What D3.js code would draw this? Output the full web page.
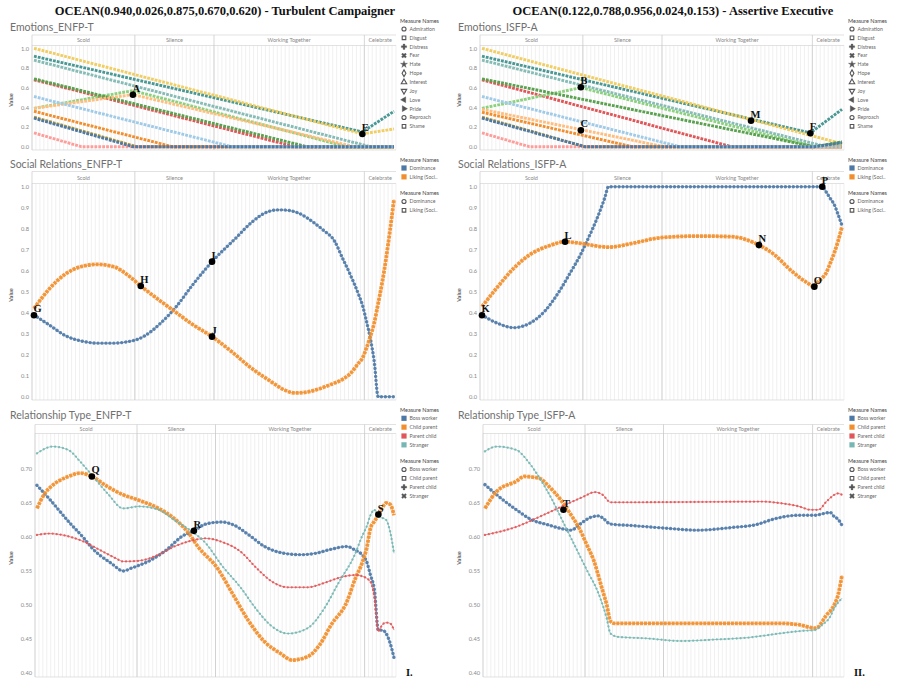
<!DOCTYPE html>
<html>
<head>
<meta charset="utf-8">
<script src="https://cdn.jsdelivr.net/npm/d3@7"></script>
<style>
body{margin:0;background:#fff;}
svg{display:block;font-family:Lato,"Open Sans",sans-serif;}
.big{font-family:"Liberation Serif","DejaVu Serif",serif;font-weight:bold;font-size:12.5px;fill:#111;}
.ptitle{font-size:10.5px;fill:#707070;}
.scene{font-size:5.5px;fill:#888;}
.lgt{font-size:5.5px;fill:#444;}
.lgi{font-size:5.2px;fill:#666;}
.anno{font-family:"Liberation Serif","DejaVu Serif",serif;font-weight:bold;font-size:10.5px;fill:#111;}
</style>
</head>
<body>
<div id="chart-area"></div>
<script>
// ---------- data ----------
var stepCount = 92;
var scenes = ['Scold','Silence','Working Together','Celebrate'];
var sceneSteps = [26, 20, 38, 8];

var emoNames = ['Admiration','Disgust','Distress','Fear','Hate','Hope','Interest','Joy','Love','Pride','Reproach','Shame'];
var emoColors = ['#4e79a7','#a0cbe8','#f28e2b','#ffbe7d','#59a14f','#8cd17d','#b6992d','#f1ce63','#499894','#86bcb6','#e15759','#ff9d9a'];

// [step, value] per measure, same order as emoNames
var emoEnfpT = [
  [[0,0.29],[25,0],[91,0]],
  [[0,0.51],[50,0],[91,0]],
  [[0,0.36],[35,0],[91,0]],
  [[0,0.39],[25,0.53],[81,0],[91,0]],
  [[0,0.69],[69,0],[91,0]],
  [[0,0.39],[25,0.57],[79,0],[91,0]],
  [[0,0.30],[26,0],[91,0]],
  [[0,1.00],[83,0.13],[91,0.18]],
  [[0,0.92],[83,0.15],[91,0.36]],
  [[0,0.88],[85,0],[91,0]],
  [[0,0.68],[66,0],[91,0]],
  [[0,0.14],[12,0],[91,0]]
];
var emoIsfpA = [
  [[0,0.29],[26,0],[84,0],[91,0.04]],
  [[0,0.51],[50,0],[91,0]],
  [[0,0.35],[38,0],[91,0]],
  [[0,0.38],[46,0],[91,0]],
  [[0,0.69],[84,0],[91,0.05]],
  [[0,0.39],[25,0.60],[84,0],[91,0.04]],
  [[0,0.30],[26,0],[91,0]],
  [[0,1.00],[91,0.03]],
  [[0,0.92],[83,0.14],[91,0.38]],
  [[0,0.88],[87,0],[91,0]],
  [[0,0.68],[63,0],[91,0]],
  [[0,0.14],[12,0],[91,0]]
];

var socNames = ['Dominance','Liking (Soci..'];
var socColors = ['#4e79a7','#f28e2b'];
var socEnfpDominance = [[0,0.389],[4,0.34],[8,0.29],[12,0.265],[16,0.255],[20,0.255],[24,0.263],[26,0.272],[28,0.29],[32,0.35],[36,0.43],[40,0.53],[45,0.643],[51,0.755],[55,0.83],[59,0.88],[62,0.89],[65,0.885],[67,0.873],[71,0.825],[73,0.795],[76,0.74],[78,0.659],[80,0.579],[82,0.489],[83,0.437],[84,0.362],[85,0.278],[86,0.167],[87,0],[91,0]];
var socEnfpLiking = [[0,0.42],[4,0.516],[8,0.585],[12,0.62],[16,0.63],[20,0.62],[24,0.575],[27,0.527],[32,0.455],[36,0.40],[40,0.345],[45,0.286],[50,0.214],[55,0.135],[60,0.071],[63,0.035],[66,0.018],[69,0.022],[72,0.037],[75,0.058],[78,0.083],[80,0.111],[82,0.159],[83,0.183],[84,0.23],[85,0.286],[86,0.352],[87,0.445],[88,0.543],[89,0.659],[90,0.794],[91,0.94]];
var socIsfpDominance = [[0,0.389],[4,0.349],[8,0.329],[12,0.349],[16,0.41],[20,0.516],[22,0.58],[25,0.68],[27,0.76],[29,0.845],[31,0.945],[32,1.0],[86,1.0],[87,0.975],[88,0.945],[89,0.916],[90,0.868],[91,0.815]];
var socIsfpLiking = [[0,0.429],[4,0.524],[8,0.611],[12,0.675],[17,0.719],[21,0.738],[25,0.73],[30,0.715],[32,0.712],[38,0.73],[45,0.757],[55,0.765],[63,0.762],[70,0.722],[74,0.675],[78,0.603],[82,0.545],[84,0.524],[85,0.548],[86,0.565],[87,0.59],[88,0.635],[89,0.683],[90,0.741],[91,0.81]];

var relNames = ['Boss worker','Child parent','Parent child','Stranger'];
var relColors = ['#4e79a7','#f28e2b','#e15759','#76b7b2'];
var relEnfpBoss = [[0,0.675],[3,0.656],[8,0.622],[12,0.597],[14,0.583],[19,0.560],[22,0.549],[24,0.553],[29,0.565],[33,0.580],[37,0.600],[40,0.608],[43,0.618],[47,0.621],[50,0.617],[54,0.602],[58,0.585],[63,0.575],[67,0.573],[71,0.575],[75,0.581],[79,0.585],[81,0.580],[83,0.572],[84,0.563],[85,0.543],[86,0.521],[87,0.462],[88,0.462],[89,0.457],[90,0.443],[91,0.421]];
var relEnfpChild = [[0,0.641],[2,0.663],[4,0.675],[8,0.688],[11,0.693],[14,0.688],[18,0.673],[22,0.661],[26,0.653],[31,0.641],[35,0.626],[39,0.602],[41,0.585],[46,0.553],[50,0.514],[54,0.475],[58,0.445],[62,0.428],[65,0.418],[69,0.423],[72,0.44],[75,0.47],[79,0.504],[81,0.536],[83,0.563],[84,0.582],[85,0.612],[86,0.622],[87,0.631],[88,0.642],[89,0.649],[90,0.647],[91,0.631]];
var relEnfpParent = [[0,0.602],[3,0.604],[8,0.600],[12,0.592],[16,0.580],[20,0.568],[22,0.563],[26,0.564],[31,0.573],[35,0.585],[39,0.593],[43,0.597],[47,0.592],[52,0.577],[56,0.553],[60,0.533],[64,0.525],[69,0.525],[73,0.531],[77,0.539],[81,0.543],[83,0.541],[85,0.533],[86,0.510],[87,0.460],[88,0.470],[89,0.473],[90,0.472],[91,0.462]];
var relEnfpStranger = [[0,0.722],[4,0.732],[8,0.727],[11,0.710],[14,0.690],[18,0.663],[22,0.641],[26,0.644],[31,0.639],[35,0.624],[39,0.609],[43,0.590],[47,0.558],[52,0.524],[56,0.492],[60,0.467],[64,0.457],[69,0.465],[73,0.492],[77,0.533],[81,0.573],[83,0.602],[84,0.614],[85,0.631],[86,0.639],[87,0.629],[88,0.627],[89,0.624],[90,0.607],[91,0.575]];
var relIsfpBoss = [[0,0.676],[3,0.661],[8,0.639],[12,0.624],[16,0.617],[19,0.612],[22,0.609],[24,0.617],[27,0.628],[29,0.630],[30,0.627],[32,0.618],[37,0.616],[46,0.612],[54,0.609],[63,0.613],[69,0.617],[74,0.626],[80,0.631],[84,0.631],[88,0.635],[89,0.629],[90,0.625],[91,0.616]];
var relIsfpChild = [[0,0.641],[3,0.666],[8,0.681],[10,0.688],[14,0.685],[16,0.675],[19,0.656],[22,0.631],[24,0.612],[26,0.587],[28,0.56],[29,0.54],[30,0.52],[31,0.50],[32,0.475],[33,0.472],[75,0.472],[80,0.470],[84,0.465],[85,0.467],[86,0.475],[87,0.484],[88,0.49],[89,0.499],[90,0.514],[91,0.543]];
var relIsfpParent = [[0,0.602],[8,0.614],[14,0.629],[20,0.645],[25,0.658],[28,0.665],[30,0.661],[32,0.650],[37,0.650],[71,0.651],[75,0.649],[80,0.644],[83,0.639],[85,0.639],[87,0.651],[90,0.663],[91,0.661]];
var relIsfpStranger = [[0,0.725],[3,0.732],[8,0.727],[11,0.710],[14,0.685],[17,0.655],[20,0.62],[23,0.585],[26,0.55],[29,0.515],[31,0.48],[32,0.457],[34,0.452],[41,0.450],[50,0.446],[58,0.448],[67,0.451],[75,0.457],[81,0.461],[84,0.462],[86,0.470],[88,0.482],[89,0.494],[91,0.509]];

// annotated points: [label, step, value]
var annoEmoEnfp = [['A',25,0.528],['E',83,0.129]];
var annoEmoIsfp = [['B',25,0.604],['C',25,0.166],['M',68,0.264],['F',83,0.136]];
var annoSocEnfp = [['G',0,0.388],['H',27,0.527],['I',45,0.643],['J',45,0.286]];
var annoSocIsfp = [['K',0,0.388],['L',21,0.738],['N',70,0.722],['O',84,0.524],['P',86,1.0]];
var annoRelEnfp = [['Q',14,0.688],['R',40,0.608],['S',87,0.632]];
var annoRelIsfp = [['T',20,0.639]];

var emoTicks = [0,0.2,0.4,0.6,0.8,1.0];
var socTicks = [0,0.1,0.2,0.3,0.4,0.5,0.6,0.7,0.8,0.9,1.0];
var relTicks = [0.40,0.45,0.50,0.55,0.60,0.65,0.70];

var headTitles = ['OCEAN(0.940,0.026,0.875,0.670,0.620) - Turbulent Campaigner','OCEAN(0.122,0.788,0.956,0.024,0.153) - Assertive Executive'];

// ---------- layout ----------
var svgWidth = 898, svgHeight = 682;
var colOffset = [0, 448];

var rows = {
  emo: {titleY:31, hdrTop:35, top:45.5, bottom:150, left:32, domain:[0,1], yr:[146.7,48.3], ticks:emoTicks, fmt:'.1f', valueY:100, legendY:20.7, curve:d3.curveLinear},
  soc: {titleY:168, hdrTop:171.5, top:183.5, bottom:400, left:32, domain:[0,1], yr:[396.7,186.7], ticks:socTicks, fmt:'.1f', valueY:295, legendY:159.7, curve:d3.curveMonotoneX},
  rel: {titleY:418.5, hdrTop:424.5, top:433.5, bottom:677, left:35, domain:[0.4,0.7], yr:[672.3,468.3], ticks:relTicks, fmt:'.2f', valueY:558, legendY:410, curve:d3.curveMonotoneX}
};

var beadStyle = {
  circle: {w:3.4, dash:'0.01 3.95', cap:'round'},
  square: {w:3.8, dash:'3 0.95', cap:'butt'},
  plus:   {w:2.3, dash:'0.01 3.95', cap:'round'},
  cross:  {w:2.3, dash:'0.01 3.95', cap:'round'},
  emo:    {w:2.9, dash:'2.8 1.1', cap:'butt'}
};

var svg = d3.select('#chart-area')
            .append('svg')
            .attr('width', svgWidth)
            .attr('height', svgHeight);

// big titles
headTitles.forEach(function(t, i){
  svg.append('text')
     .attr('class','big')
     .attr('x', 225 + colOffset[i])
     .attr('y', 15)
     .attr('text-anchor','middle')
     .text(t);
});

function drawPanel(rowKey, col, title, seriesList, colors, markers, annos) {
  var r = rows[rowKey];
  var off = colOffset[col];
  var left = r.left + off, right = 396 + off;
  var g = svg.append('g');

  var xs = d3.scaleBand().domain(d3.range(stepCount)).range([left, right]);
  var bw = xs.bandwidth();
  var cx = function(i){ return xs(i) + bw / 2; };
  var ys = d3.scaleLinear().domain(r.domain).range(r.yr);

  g.append('text').attr('class','ptitle').attr('x', 10 + off).attr('y', r.titleY).text(title);

  // step gridlines
  g.append('g').selectAll('line')
   .data(d3.range(stepCount + 1))
   .join('line')
   .attr('x1', function(i){ return left + i * bw; })
   .attr('x2', function(i){ return left + i * bw; })
   .attr('y1', r.top).attr('y2', r.bottom)
   .attr('stroke', '#e6e6e6').attr('stroke-width', 0.6);

  // scene header
  var ends = d3.cumsum(sceneSteps);
  g.append('line').attr('x1', left).attr('x2', right).attr('y1', r.hdrTop).attr('y2', r.hdrTop).attr('stroke','#d6d6d6').attr('stroke-width',0.7);
  g.append('line').attr('x1', left).attr('x2', right).attr('y1', r.top).attr('y2', r.top).attr('stroke','#d6d6d6').attr('stroke-width',0.7);
  g.append('line').attr('x1', left).attr('x2', right).attr('y1', r.bottom).attr('y2', r.bottom).attr('stroke','#d6d6d6').attr('stroke-width',0.7);
  g.append('line').attr('x1', left).attr('x2', left).attr('y1', r.hdrTop).attr('y2', r.bottom).attr('stroke','#c8c8c8').attr('stroke-width',0.7);
  scenes.forEach(function(s, k){
    var x0 = left + (ends[k] - sceneSteps[k]) * bw;
    var x1 = left + ends[k] * bw;
    if (k < scenes.length - 1) {
      g.append('line').attr('x1', x1).attr('x2', x1).attr('y1', r.hdrTop).attr('y2', r.bottom)
       .attr('stroke','#c4c4c4').attr('stroke-width',0.7);
    }
    g.append('text').attr('class','scene')
     .attr('x', (x0 + x1) / 2).attr('y', (r.hdrTop + r.top) / 2 + 2)
     .attr('text-anchor','middle').text(s);
  });

  // y axis
  var ax = g.append('g')
            .attr('transform','translate(' + left + ',0)')
            .call(d3.axisLeft(ys).tickValues(r.ticks).tickFormat(d3.format(r.fmt)).tickSize(0).tickPadding(3));
  ax.select('.domain').remove();
  ax.selectAll('text').attr('font-size', 5.7).attr('fill', '#888').attr('font-family','Lato, sans-serif');

  g.append('text')
   .attr('transform','translate(' + (13 + off) + ',' + r.valueY + ') rotate(-90)')
   .attr('text-anchor','middle')
   .attr('font-size', 5.5).attr('fill','#666').attr('font-weight','bold')
   .text('Value');

  // series
  var line = d3.line()
               .x(function(d){ return cx(d[0]); })
               .y(function(d){ return ys(d[1]); })
               .curve(r.curve);

  var order = d3.range(seriesList.length);
  if (rowKey === 'emo') order.reverse();
  order.forEach(function(i){
    var st = beadStyle[markers[i]];
    if (markers[i] !== 'emo') {
      g.append('path').attr('d', line(seriesList[i]))
       .attr('fill','none').attr('stroke', colors[i]).attr('stroke-width', 0.9).attr('opacity', 0.8);
    }
    g.append('path').attr('d', line(seriesList[i]))
     .attr('fill','none').attr('stroke', colors[i])
     .attr('stroke-width', st.w)
     .attr('stroke-dasharray', st.dash)
     .attr('stroke-linecap', st.cap)
     .attr('opacity', markers[i] === 'emo' ? 1 : 0.9);
  });

  // annotations
  var an = g.append('g');
  annos.forEach(function(a){
    an.append('text').attr('class','anno')
      .attr('x', cx(a[1]) - 0.5).attr('y', ys(a[2]) - 3)
      .text(a[0]);
  });
  annos.forEach(function(a){
    an.append('circle').attr('cx', cx(a[1])).attr('cy', ys(a[2])).attr('r', 3.3).attr('fill','#000');
  });
}

// legends
function legendBlock(x, yc, names, drawKey) {
  var lg = svg.append('g');
  lg.append('text').attr('class','lgt').attr('x', x).attr('y', yc + 1.9).text('Measure Names');
  names.forEach(function(n, i){
    var iy = yc + 8.3 + 8.85 * i;
    drawKey(lg, x + 4, iy, i);
    lg.append('text').attr('class','lgi').attr('x', x + 9.5).attr('y', iy + 1.9).text(n);
  });
  return yc + 8.3 + 8.85 * names.length;
}

var emoShapes = [
  {t:d3.symbolCircle, fill:false},
  {t:d3.symbolSquare, fill:false},
  {t:d3.symbolCross, fill:true},
  {t:d3.symbolCross, fill:true, rot:45},
  {t:d3.symbolStar, fill:true},
  {t:d3.symbolDiamond, fill:false},
  {t:d3.symbolTriangle, fill:false},
  {t:d3.symbolTriangle, fill:false, rot:180},
  {t:d3.symbolTriangle, fill:true, rot:-90},
  {t:d3.symbolTriangle, fill:true, rot:90},
  {t:d3.symbolCircle, fill:false},
  {t:d3.symbolSquare, fill:false}
];
var socShapes = [{t:d3.symbolCircle, fill:false},{t:d3.symbolSquare, fill:false}];
var relShapes = [{t:d3.symbolCircle, fill:false},{t:d3.symbolSquare, fill:false},{t:d3.symbolCross, fill:true},{t:d3.symbolCross, fill:true, rot:45}];

function shapeKey(shapes) {
  return function(lg, x, y, i){
    var s = shapes[i];
    lg.append('path')
      .attr('d', d3.symbol().type(s.t).size(s.fill ? 16 : 13)())
      .attr('transform','translate(' + x + ',' + y + ') rotate(' + (s.rot || 0) + ')')
      .attr('fill', s.fill ? '#555' : 'none')
      .attr('stroke', '#555')
      .attr('stroke-width', s.fill ? 0.3 : 1.1);
  };
}
function colorKey(colors) {
  return function(lg, x, y, i){
    lg.append('rect').attr('x', x - 2.6).attr('y', y - 2.6).attr('width', 5.2).attr('height', 5.2).attr('fill', colors[i]);
  };
}

var emoMarkers = emoNames.map(function(){ return 'emo'; });

drawPanel('emo', 0, 'Emotions_ENFP-T', emoEnfpT, emoColors, emoMarkers, annoEmoEnfp);
drawPanel('emo', 1, 'Emotions_ISFP-A', emoIsfpA, emoColors, emoMarkers, annoEmoIsfp);
drawPanel('soc', 0, 'Social Relations_ENFP-T', [socEnfpDominance, socEnfpLiking], socColors, ['circle','square'], annoSocEnfp);
drawPanel('soc', 1, 'Social Relations_ISFP-A', [socIsfpDominance, socIsfpLiking], socColors, ['circle','square'], annoSocIsfp);
drawPanel('rel', 0, 'Relationship Type_ENFP-T', [relEnfpBoss, relEnfpChild, relEnfpParent, relEnfpStranger], relColors, ['circle','square','plus','cross'], annoRelEnfp);
drawPanel('rel', 1, 'Relationship Type_ISFP-A', [relIsfpBoss, relIsfpChild, relIsfpParent, relIsfpStranger], relColors, ['circle','square','plus','cross'], annoRelIsfp);

colOffset.forEach(function(off){
  var lx = 400 + off;
  legendBlock(lx, rows.emo.legendY, emoNames, shapeKey(emoShapes));
  var y2 = legendBlock(lx, rows.soc.legendY, socNames, colorKey(socColors));
  legendBlock(lx, y2 + 7.5, socNames, shapeKey(socShapes));
  var y3 = legendBlock(lx, rows.rel.legendY, relNames, colorKey(relColors));
  legendBlock(lx, y3 + 7.5, relNames, shapeKey(relShapes));
});

['I.','II.'].forEach(function(t, i){
  svg.append('text').attr('class','anno').attr('font-size', 10)
     .attr('x', 406 + colOffset[i]).attr('y', 676).text(t);
});
</script>
</body>
</html>
